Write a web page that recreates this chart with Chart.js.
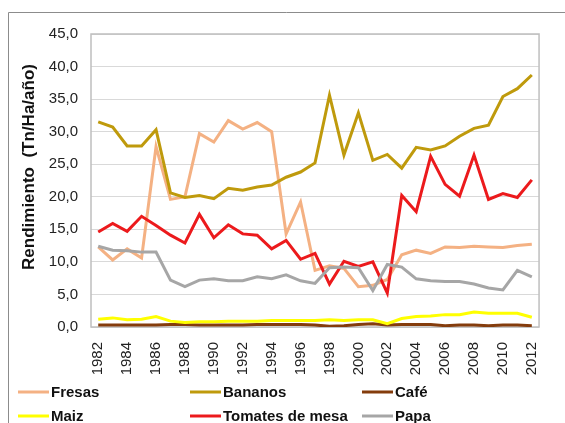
<!DOCTYPE html>
<html>
<head>
<meta charset="utf-8">
<script src="https://cdn.jsdelivr.net/npm/chart.js@4"></script>
<style>
  html, body { margin: 0; padding: 0; background: #fff; }
  #wrap { width: 565px; height: 423px; position: relative; }
</style>
</head>
<body>
<div id="wrap"><canvas id="rendChart" width="565" height="423"></canvas></div>
<script>
const years = ['1982','1983','1984','1985','1986','1987','1988','1989','1990','1991','1992','1993','1994','1995','1996','1997','1998','1999','2000','2001','2002','2003','2004','2005','2006','2007','2008','2009','2010','2011','2012'];
const fresas = [12.3, 10.3, 12.0, 10.6, 27.7, 19.6, 20.0, 29.7, 28.4, 31.7, 30.4, 31.4, 30.0, 14.3, 19.2, 8.7, 9.4, 9.0, 6.2, 6.4, 7.3, 11.1, 11.8, 11.3, 12.3, 12.2, 12.4, 12.3, 12.2, 12.5, 12.7];
const bananos = [31.5, 30.7, 27.8, 27.8, 30.3, 20.6, 19.9, 20.2, 19.7, 21.3, 21.0, 21.5, 21.8, 23.0, 23.8, 25.2, 35.6, 26.4, 32.9, 25.6, 26.5, 24.4, 27.6, 27.2, 27.8, 29.3, 30.5, 31.0, 35.4, 36.6, 38.7];
const cafe = [0.3, 0.3, 0.3, 0.3, 0.3, 0.4, 0.4, 0.3, 0.3, 0.3, 0.3, 0.4, 0.4, 0.4, 0.4, 0.3, 0.1, 0.2, 0.4, 0.5, 0.3, 0.4, 0.4, 0.4, 0.2, 0.3, 0.3, 0.2, 0.3, 0.3, 0.2];
const maiz = [1.2, 1.4, 1.1, 1.2, 1.6, 0.9, 0.7, 0.8, 0.8, 0.9, 0.9, 0.9, 1.0, 1.0, 1.0, 1.0, 1.1, 1.0, 1.1, 1.1, 0.5, 1.3, 1.6, 1.7, 1.9, 1.9, 2.3, 2.1, 2.1, 2.1, 1.5];
const tomates = [14.6, 15.9, 14.7, 17.0, 15.6, 14.1, 12.9, 17.3, 13.7, 15.7, 14.3, 14.1, 12.0, 13.3, 10.4, 11.3, 6.6, 10.1, 9.3, 10.0, 5.2, 20.2, 17.7, 26.2, 21.9, 20.1, 26.4, 19.6, 20.5, 19.9, 22.6];
const papa = [12.4, 11.8, 11.7, 11.5, 11.5, 7.2, 6.2, 7.2, 7.4, 7.1, 7.1, 7.7, 7.4, 8.0, 7.1, 6.7, 9.1, 9.2, 9.1, 5.6, 9.6, 9.2, 7.4, 7.1, 7.0, 7.0, 6.6, 6.0, 5.7, 8.7, 7.7];

const seriesNames = ['Fresas', 'Bananos', 'Café', 'Maiz', 'Tomates de mesa', 'Papa'];
const seriesData = [fresas, bananos, cafe, maiz, tomates, papa];
const seriesColors = ['#F4B183', '#BF9A0C', '#843C0C', '#FFFF00', '#EC1A1C', '#A6A6A6'];
const yTitle = 'Rendimiento  (Tn/Ha/año)';

const FONT = "'Liberation Sans', Arial, sans-serif";

// frame + outer border + y title + legend in a 3-column grid like the original
const decorPlugin = {
  id: 'decor',
  beforeDatasetsDraw(chart) {
    const { ctx, chartArea: a } = chart;
    ctx.save();
    ctx.strokeStyle = '#BFBFBF';
    ctx.lineWidth = 1.5;
    ctx.strokeRect(a.left, a.top, a.right - a.left, a.bottom - a.top);
    ctx.restore();
  },
  afterDraw(chart) {
    const { ctx } = chart;
    ctx.save();
    // outer chart border (partly cropped in the source)
    ctx.strokeStyle = '#8C8C8C';
    ctx.lineWidth = 1;
    ctx.beginPath();
    ctx.moveTo(8.5, 423);
    ctx.lineTo(8.5, 12.5);
    ctx.lineTo(565, 12.5);
    ctx.stroke();

    // y title
    ctx.translate(29, 167);
    ctx.rotate(-Math.PI / 2);
    ctx.textAlign = 'center';
    ctx.textBaseline = 'middle';
    ctx.fillStyle = '#111';
    ctx.font = "bold 17px " + FONT;
    ctx.fillText(yTitle, 0, 0);
    ctx.restore();

    // legend
    const colX = [18, 190, 362];
    const rowY = [392, 416];
    ctx.save();
    ctx.font = "bold 15px " + FONT;
    ctx.textBaseline = 'middle';
    ctx.fillStyle = '#111';
    seriesNames.forEach((name, i) => {
      const x = colX[i % 3];
      const y = rowY[Math.floor(i / 3)];
      ctx.strokeStyle = seriesColors[i];
      ctx.lineWidth = 3;
      ctx.beginPath();
      ctx.moveTo(x, y);
      ctx.lineTo(x + 31, y);
      ctx.stroke();
      ctx.fillText(name, x + 33, y + 1);
    });
    ctx.restore();
  }
};

new Chart(document.getElementById('rendChart'), {
  type: 'line',
  data: {
    labels: years,
    datasets: seriesNames.map((name, i) => ({
      label: name,
      data: seriesData[i],
      borderColor: seriesColors[i],
      backgroundColor: seriesColors[i],
      borderWidth: 3,
      pointRadius: 0,
      tension: 0,
      fill: false,
      order: -i
    }))
  },
  options: {
    responsive: false,
    animation: false,
    layout: { padding: { top: 34, right: 11, left: 0, bottom: 0 } },
    plugins: {
      legend: { display: false },
      tooltip: { enabled: false }
    },
    scales: {
      x: {
        offset: true,
        grid: { display: false, drawTicks: false },
        border: { display: false },
        afterFit: (scale) => { scale.height = 96; },
        ticks: {
          autoSkip: false,
          minRotation: 90,
          maxRotation: 90,
          padding: 15,
          color: '#222',
          font: { family: FONT, size: 15 },
          callback: function (value, index) { return index % 2 === 0 ? years[index] : ''; }
        }
      },
      y: {
        min: 0,
        max: 45,
        grid: { color: '#D9D9D9', lineWidth: 1, drawTicks: false },
        border: { display: false },
        afterFit: (scale) => { scale.width = 91; },
        ticks: {
          stepSize: 5,
          padding: 13,
          color: '#222',
          font: { family: FONT, size: 15 },
          callback: (v) => v.toFixed(1).replace('.', ',')
        }
      }
    }
  },
  plugins: [decorPlugin]
});
</script>
</body>
</html>
